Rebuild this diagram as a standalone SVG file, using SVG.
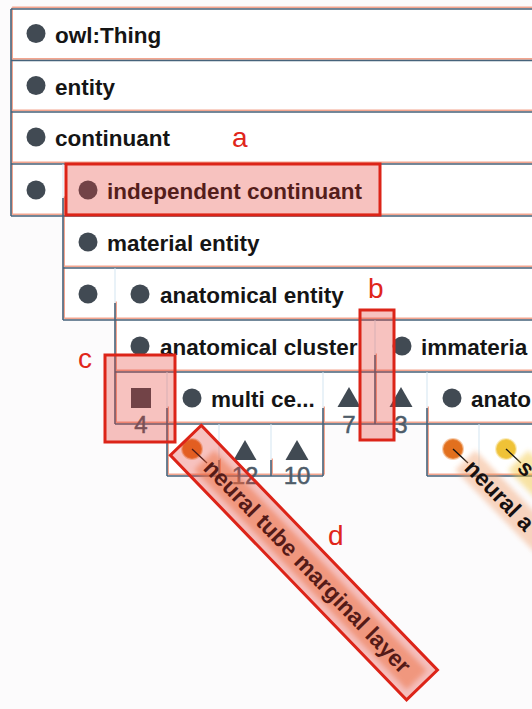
<svg xmlns="http://www.w3.org/2000/svg" xmlns:xlink="http://www.w3.org/1999/xlink" width="532" height="709" viewBox="0 0 532 709">
<style>
.t{font-family:"Liberation Sans",Arial,sans-serif;font-size:22.5px;font-weight:bold;fill:#151515}
.n{font-family:"Liberation Sans",Arial,sans-serif;font-size:24px;fill:#4e5c69;stroke:#4e5c69;stroke-width:.5;text-anchor:middle}
.dot{fill:#414a53}
.ann{fill:#e3342b;fill-opacity:.3;stroke:#dc2418;stroke-width:3}
.al{font-family:"Liberation Sans",Arial,sans-serif;font-size:28px;fill:#e0261b}
.lt{stroke:#d3e5f1;stroke-width:1;fill:none}
.lbl{font-family:"Liberation Sans",Arial,sans-serif;font-size:23px;font-weight:bold;fill:#161010}
.lead{stroke:#111;stroke-width:1.3}
</style>
<defs>
<filter id="soft" x="-10%" y="-60%" width="120%" height="220%"><feGaussianBlur stdDeviation="2.5"/></filter>
<path id="frame" fill="none" stroke-width="1.6" d="M11 9H540M11 60.5H540M11 112H540M11 164H540M11 216H540M11 9V216M63 198V320M63 268H540M63 320H540M115 303V424M115 372H540M115 424H540M375 355V424M167 408V476M323 408V476M167 476H323M427 408V476M427 476H540M219 460V476M271 460V476"/>
</defs>
<rect width="532" height="709" fill="#fcfbfc"/>
<rect x="11" y="9" width="530" height="207" fill="#fff"/>
<rect x="63" y="216" width="478" height="104" fill="#fff"/>
<rect x="115" y="320" width="426" height="104" fill="#fff"/>
<rect x="167" y="424" width="156" height="52" fill="#fff"/>
<rect x="427" y="424" width="114" height="52" fill="#fff"/>

<g id="connectors">
<use xlink:href="#frame" stroke="#f3a58f" transform="translate(1.2,-1.6)"/>
<use xlink:href="#frame" stroke="#46637b"/>
<path class="lt" d="M63 164V198M115 268V303M375 320V355M167 372V408M323 372V408M427 372V408M219 424V460M271 424V460M479 424V476"/>
</g>

<g id="owl-thing"><circle class="dot" cx="36" cy="33.5" r="9.5"/><text class="t" x="55" y="42.5">owl:Thing</text></g>
<g id="entity"><circle class="dot" cx="36" cy="85.5" r="9.5"/><text class="t" x="55" y="94.5">entity</text></g>
<g id="continuant"><circle class="dot" cx="36" cy="137" r="9.5"/><text class="t" x="55" y="146">continuant</text></g>
<g id="continuant-child"><circle class="dot" cx="36" cy="190" r="9.5"/></g>
<g id="independent-continuant"><circle class="dot" cx="88" cy="190" r="9.5"/><text class="t" x="107" y="198.5">independent continuant</text></g>
<g id="material-entity"><circle class="dot" cx="88" cy="242" r="9.5"/><text class="t" x="107" y="250.5">material entity</text></g>
<g id="material-entity-child"><circle class="dot" cx="88" cy="294" r="9.5"/></g>
<g id="anatomical-entity"><circle class="dot" cx="140" cy="294" r="9.5"/><text class="t" x="160" y="302.5">anatomical entity</text></g>
<g id="anatomical-cluster"><circle class="dot" cx="140" cy="346" r="9.5"/><text class="t" x="160" y="354.5">anatomical cluster</text></g>
<g id="immaterial"><circle class="dot" cx="402" cy="346" r="9.5"/><text class="t" x="421" y="354.5">immateria</text></g>
<g id="instances-4"><rect class="dot" x="131" y="388" width="20" height="20"/><text class="n" x="141" y="433">4</text></g>
<g id="multi-cell"><circle class="dot" cx="192" cy="398" r="9.5"/><text class="t" x="211" y="406.5">multi ce...</text></g>
<g id="collapsed-7"><polygon class="dot" points="349,387 337.5,407 360.5,407"/><text class="n" x="349" y="433">7</text></g>
<g id="collapsed-3"><polygon class="dot" points="401,387 389.5,407 412.5,407"/><text class="n" x="401" y="433">3</text></g>
<g id="anato"><circle class="dot" cx="452" cy="398" r="9.5"/><text class="t" x="471" y="406.5">anato</text></g>
<g id="collapsed-12"><polygon class="dot" points="245,440 233.5,460 256.5,460"/><text class="n" x="245" y="484">12</text></g>
<g id="collapsed-10"><polygon class="dot" points="297,440 285.5,460 308.5,460"/><text class="n" x="297" y="484">10</text></g>

<g id="neural-tube-marginal-layer">
<circle cx="192" cy="449" r="10" fill="#e2701e" stroke="#ee9a5a" stroke-opacity=".5" stroke-width="2"/>
<line class="lead" x1="192" y1="449" x2="207" y2="463"/>
<g transform="translate(207,463) rotate(46)">
<rect x="-4" y="-14" width="306" height="28" fill="#ef8a4c" opacity=".5" filter="url(#soft)"/>
<text class="lbl" x="1" y="7.5">neural tube marginal layer</text>
</g>
</g>
<g id="neural-2">
<circle cx="453" cy="449" r="10" fill="#e2701e" stroke="#ee9a5a" stroke-opacity=".5" stroke-width="2"/>
<line class="lead" x1="453" y1="449" x2="468" y2="463"/>
<g transform="translate(468,463) rotate(46)">
<rect x="-4" y="-14" width="306" height="28" fill="#f09a62" opacity=".4" filter="url(#soft)"/>
<text class="lbl" x="1" y="7.5">neural a</text>
</g>
</g>
<g id="s-node">
<circle cx="506" cy="449" r="10" fill="#efc237" stroke="#f5d77a" stroke-opacity=".5" stroke-width="2"/>
<line class="lead" x1="506" y1="449" x2="521" y2="463"/>
<g transform="translate(521,463) rotate(46)">
<rect x="-4" y="-14" width="120" height="28" fill="#f2c63a" opacity=".45" filter="url(#soft)"/>
<text class="lbl" x="1" y="7.5">s</text>
</g>
</g>

<g id="annotations">
<rect class="ann" x="66" y="164" width="314" height="51"/>
<rect class="ann" x="360" y="310" width="34" height="130"/>
<rect class="ann" x="105" y="355" width="70" height="87"/>
<rect class="ann" x="-31" y="-22" width="340" height="43" transform="translate(207,463) rotate(46)"/>
<text class="al" x="232" y="147">a</text>
<text class="al" x="368" y="298">b</text>
<text class="al" x="78" y="368">c</text>
<text class="al" x="328" y="545">d</text>
</g>
</svg>
